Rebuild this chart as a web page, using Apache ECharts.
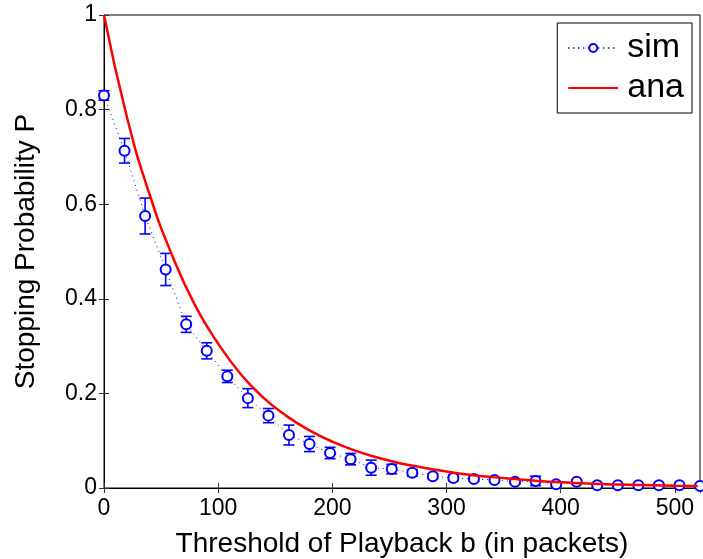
<!DOCTYPE html>
<html>
<head>
<meta charset="utf-8">
<script src="https://cdn.jsdelivr.net/npm/echarts@6/dist/echarts.min.js"></script>
<style>
  html, body { margin: 0; padding: 0; background: #fff; }
  #chart { width: 703px; height: 559px; }
</style>
</head>
<body>
<div id="chart"></div>
<script>
// simulation points (b, P) with half-width of error bar
var simX = [0, 18, 36, 54, 72, 90, 108, 126, 144, 162, 180, 198, 216, 234, 252,
            270, 288, 306, 324, 342, 360, 378, 396, 414, 432, 450, 468, 486, 504, 522];
var simY = [0.83, 0.713, 0.575, 0.462, 0.346, 0.29, 0.236, 0.19, 0.153, 0.112, 0.093, 0.074, 0.061, 0.043, 0.04,
            0.032, 0.025, 0.021, 0.019, 0.017, 0.013, 0.015, 0.008, 0.013, 0.006, 0.006, 0.006, 0.006, 0.006, 0.004];
var simErr = [0.01, 0.026, 0.038, 0.034, 0.017, 0.017, 0.013, 0.02, 0.015, 0.021, 0.016, 0.012, 0.012, 0.016, 0.01,
              0.007, 0.005, 0.006, 0.005, 0.005, 0.004, 0.01, 0.004, 0.004, 0.003, 0.003, 0.003, 0.003, 0.003, 0.003];

// analytical curve
var anaX = [0, 20, 40, 60, 80, 100, 120, 140, 160, 180, 200, 220, 240, 260,
            280, 300, 320, 340, 360, 380, 400, 420, 440, 460, 480, 500, 520];
var anaY = [1.0, 0.785, 0.62, 0.49, 0.385, 0.305, 0.24, 0.19, 0.152, 0.122, 0.098, 0.079, 0.064, 0.052,
            0.043, 0.035, 0.028, 0.023, 0.019, 0.015, 0.012, 0.01, 0.008, 0.007, 0.006, 0.005, 0.004];

var simData = simX.map(function (x, i) { return [x, simY[i]]; });
var errData = simX.map(function (x, i) { return [x, simY[i] - simErr[i], simY[i] + simErr[i]]; });
var anaData = anaX.map(function (x, i) { return [x, anaY[i]]; });

var blue = '#0000ff';
var fontName = 'Liberation Sans';

var myChart = echarts.init(document.getElementById('chart'));

var tickStyle = { show: true, inside: true, length: 5, lineStyle: { color: '#333', width: 1 } };

myChart.setOption({
  animation: false,
  backgroundColor: '#fff',
  grid: {
    left: 104, top: 15, right: 3, bottom: 71,
    outerBoundsMode: 'none',
    show: true, borderColor: '#000', borderWidth: 1
  },
  legend: {
    orient: 'vertical',
    right: 11,
    top: 23,
    padding: [5, 8, 5, 10],
    itemGap: 0,
    itemWidth: 50,
    itemHeight: 10,
    backgroundColor: '#fff',
    borderColor: '#000',
    borderWidth: 1,
    borderRadius: 0,
    textStyle: { fontFamily: fontName, fontSize: 34, color: '#000', lineHeight: 40, padding: [0, 0, 0, 4] },
    data: [
      { name: 'sim' },
      { name: 'ana', itemStyle: { opacity: 0 } }
    ]
  },
  xAxis: [{
    type: 'value',
    min: 0,
    max: 522,
    interval: 100,
    name: 'Threshold of Playback b (in packets)',
    nameLocation: 'middle',
    nameGap: 42,
    nameTextStyle: { fontFamily: fontName, fontSize: 28, color: '#000' },
    axisLine: { onZero: false, lineStyle: { color: '#000', width: 1 } },
    axisTick: tickStyle,
    axisLabel: { fontFamily: fontName, fontSize: 23, color: '#000', margin: 9, showMaxLabel: false },
    splitLine: { show: false }
  }, {
    type: 'value',
    position: 'top',
    min: 0,
    max: 522,
    interval: 100,
    axisLine: { show: false },
    axisTick: tickStyle,
    axisLabel: { show: false },
    splitLine: { show: false }
  }],
  yAxis: [{
    type: 'value',
    min: 0,
    max: 1,
    interval: 0.2,
    name: 'Stopping Probability P',
    nameLocation: 'middle',
    nameGap: 64,
    nameTextStyle: { fontFamily: fontName, fontSize: 28, color: '#000' },
    axisLine: { show: true, lineStyle: { color: '#000', width: 1 } },
    axisTick: tickStyle,
    axisLabel: { fontFamily: fontName, fontSize: 23, color: '#000', margin: 7 },
    splitLine: { show: false }
  }, {
    type: 'value',
    position: 'right',
    min: 0,
    max: 1,
    interval: 0.2,
    axisLine: { show: false },
    axisTick: tickStyle,
    axisLabel: { show: false },
    splitLine: { show: false }
  }],
  series: [
    {
      name: 'sim',
      type: 'line',
      data: simData,
      symbol: 'emptyCircle',
      symbolSize: 10,
      showAllSymbol: true,
      clip: false,
      itemStyle: { color: blue, borderColor: blue, borderWidth: 1.5 },
      lineStyle: { color: blue, width: 1, type: [1, 4] },
      z: 3
    },
    {
      name: 'simErr',
      type: 'custom',
      data: errData,
      z: 3,
      renderItem: function (params, api) {
        var x = api.value(0);
        var lo = api.coord([x, api.value(1)]);
        var hi = api.coord([x, api.value(2)]);
        var w = 5.5;
        var st = { stroke: blue, lineWidth: 1.6 };
        return {
          type: 'group',
          children: [
            { type: 'line', shape: { x1: lo[0], y1: lo[1], x2: hi[0], y2: hi[1] }, style: st },
            { type: 'line', shape: { x1: lo[0] - w, y1: lo[1], x2: lo[0] + w, y2: lo[1] }, style: st },
            { type: 'line', shape: { x1: hi[0] - w, y1: hi[1], x2: hi[0] + w, y2: hi[1] }, style: st }
          ]
        };
      }
    },
    {
      name: 'ana',
      type: 'line',
      data: anaData,
      smooth: true,
      showSymbol: false,
      symbol: 'none',
      lineStyle: { color: '#ff0000', width: 2.5 },
      itemStyle: { color: '#ff0000' },
      z: 4
    }
  ]
});
</script>
</body>
</html>
